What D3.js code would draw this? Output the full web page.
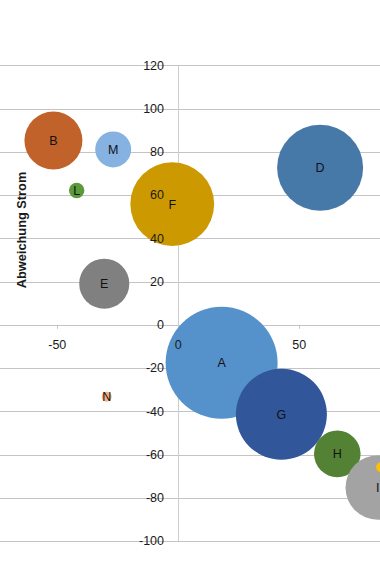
<!DOCTYPE html>
<html>
<head>
<meta charset="utf-8">
<script src="https://cdn.jsdelivr.net/npm/d3@7/dist/d3.min.js"></script>
<style>
html,body{margin:0;padding:0;background:#fff;overflow:hidden;}
svg{display:block;font-family:"Liberation Sans",Arial,sans-serif;}
</style>
</head>
<body>
<svg id="chart" width="380" height="570"></svg>
<script>
// Data
const labels = ["A","B","D","E","F","G","H","I","K","L","M","N"];
const xValues = [17.9,-51.6,58.6,-30.6,-2.5,42.6,65.7,82.4,83.8,-42.0,-26.9,-29.6];
const yValues = [-17.6,85.2,72.6,19.0,55.8,-41.4,-59.7,-75.3,-65.9,62.1,81.1,-33.3];
const sizes = [100,26.8,59,20,56,66,17.3,33,0.8,1.9,10.3,0.8];
const colors = ["#5592cb","#c0622a","#4679a8","#808080","#cc9a00","#31569a","#548235","#a3a3a3","#ffc000","#5a9a3c","#85b2e0","#f4b183"];
const showLabel = [true,true,true,true,true,true,true,true,false,true,true,true];
const xTicks = [-50,0,50];
const yTicks = [-100,-80,-60,-40,-20,0,20,40,60,80,100,120];
const yTitle = "Abweichung Strom";

const svg = d3.select("#chart");
const W = 380;

const x = d3.scaleLinear().domain([-50,50]).range([57.3,299.3]);
const y = d3.scaleLinear().domain([-100,120]).range([541,65.3]);
const r = d3.scaleSqrt().domain([0,100]).range([0,56]);

// horizontal gridlines
svg.append("g").selectAll("line").data(yTicks).join("line")
  .attr("x1",0).attr("x2",W)
  .attr("y1",d=>Math.round(y(d))+0.5).attr("y2",d=>Math.round(y(d))+0.5)
  .attr("stroke","#c4c4c4").attr("stroke-width",1);

// vertical axis line at x=0
svg.append("line")
  .attr("x1",Math.round(x(0))+0.5).attr("x2",Math.round(x(0))+0.5)
  .attr("y1",y(120)).attr("y2",y(-100))
  .attr("stroke","#cdcdcd").attr("stroke-width",1);

// x tick marks
svg.append("g").selectAll("line").data(xTicks.filter(d=>d!==0)).join("line")
  .attr("x1",d=>Math.round(x(d))+0.5).attr("x2",d=>Math.round(x(d))+0.5)
  .attr("y1",y(0)).attr("y2",y(0)+4)
  .attr("stroke","#c4c4c4");

// bubbles
const data = labels.map((l,i)=>({l,x:xValues[i],y:yValues[i],s:sizes[i],c:colors[i],show:showLabel[i]}));
svg.append("g").selectAll("circle").data(data).join("circle")
  .attr("cx",d=>x(d.x)).attr("cy",d=>y(d.y)).attr("r",d=>r(d.s))
  .attr("fill",d=>d.c);

// y tick labels
svg.append("g").selectAll("text").data(yTicks).join("text")
  .attr("x",164).attr("y",d=>y(d)).attr("dy","0.35em")
  .attr("text-anchor","end").attr("font-size",12.5).attr("fill","#1a1a1a")
  .text(d=>d);

// x tick labels
svg.append("g").selectAll("text").data(xTicks).join("text")
  .attr("x",d=>x(d)).attr("y",y(0)+24)
  .attr("text-anchor","middle").attr("font-size",12.5).attr("fill","#1a1a1a")
  .text(d=>d);

// bubble labels
svg.append("g").selectAll("text").data(data.filter(d=>d.show)).join("text")
  .attr("x",d=>x(d.x)).attr("y",d=>y(d.y)).attr("dy","0.36em")
  .attr("text-anchor","middle").attr("font-size",12.5).attr("fill","#111")
  .text(d=>d.l);

// y axis title
svg.append("text")
  .attr("transform","translate(26,230) rotate(-90)")
  .attr("text-anchor","middle").attr("font-size",12.8).attr("font-weight","bold")
  .attr("fill","#1a1a1a")
  .text(yTitle);
</script>
</body>
</html>
